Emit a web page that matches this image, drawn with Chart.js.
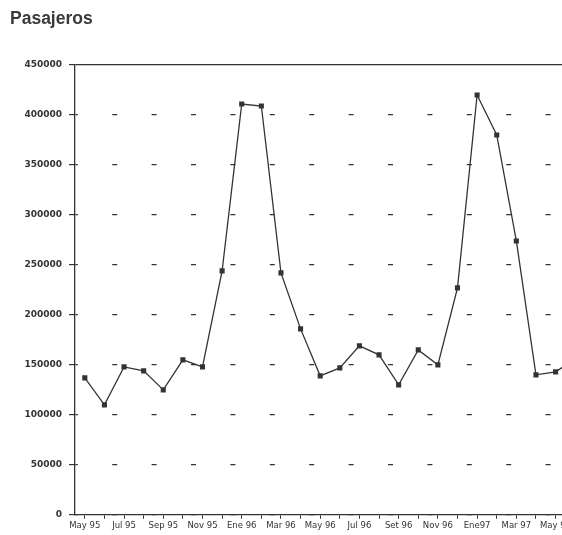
<!DOCTYPE html>
<html>
<head>
    <title>Pasajeros</title>
    <script src="https://cdn.jsdelivr.net/npm/chart.js"></script>
    <style>
        body { margin: 0; overflow: hidden; background: #fff; }
    </style>
</head>
<body>
    <canvas id="myLineChart" width="589" height="535"></canvas>

    <script>
        // months shown on the x axis (only every other one gets a label)
        const months = ['May 95', 'Jun 95', 'Jul 95', 'Ago 95', 'Sep 95', 'Oct 95', 'Nov 95', 'Dic 95',
            'Ene 96', 'Feb 96', 'Mar 96', 'Abr 96', 'May 96', 'Jun 96', 'Jul 96', 'Ago 96',
            'Set 96', 'Oct 96', 'Nov 96', 'Dic 96', 'Ene97', 'Feb 97', 'Mar 97', 'Abr 97',
            'May 97', 'Jun 97'];
        // passengers per month
        const pasajeros = [137000, 110000, 148000, 144000, 125000, 155000, 148000, 244000,
            411000, 409000, 242000, 186000, 139000, 147000, 169000, 160000,
            130000, 165000, 150000, 227000, 420000, 380000, 274000, 140000,
            143000, 156000];
        const yTicks = [0, 50000, 100000, 150000, 200000, 250000, 300000, 350000, 400000, 450000];

        const ink = '#333333';

        const ctx = document.getElementById('myLineChart').getContext('2d');
        const chart = new Chart(ctx, {
            type: 'line',
            data: {
                labels: months,
                datasets: [{
                    label: 'Pasajeros',
                    data: pasajeros,
                    borderColor: ink,
                    borderWidth: 1.3,
                    backgroundColor: ink,
                    pointStyle: 'rect',
                    pointRadius: 3.6,
                    pointBorderWidth: 0,
                    tension: 0,
                    fill: false
                }]
            },
            options: {
                responsive: false,
                animation: false,
                layout: { padding: { left: 10, right: 0, top: 0, bottom: 2 } },
                plugins: {
                    legend: { display: false },
                    tooltip: { enabled: false },
                    title: {
                        display: true,
                        text: 'Pasajeros',
                        align: 'start',
                        color: '#3a3a3a',
                        font: { family: 'Liberation Sans', size: 17.5, weight: 'bold' },
                        padding: { top: 9, bottom: 35 }
                    }
                },
                scales: {
                    x: {
                        offset: true,
                        grid: {
                            drawOnChartArea: false,
                            tickLength: 4,
                            color: ink
                        },
                        border: { color: ink, width: 1.3 },
                        ticks: {
                            autoSkip: false,
                            maxRotation: 0,
                            padding: 2,
                            color: '#333',
                            font: { family: 'DejaVu Sans', size: 8.5 },
                            callback: function (value, index) {
                                return index % 2 === 0 ? months[index] : '';
                            }
                        }
                    },
                    y: {
                        min: 0,
                        max: 450000,
                        afterBuildTicks: function (scale) {
                            scale.ticks = yTicks.map(v => ({ value: v }));
                        },
                        afterFit: function (scale) {
                            scale.width = 65;
                        },
                        grid: {
                            color: ink,
                            lineWidth: 1.2,
                            tickLength: 6,
                            tickColor: ink
                        },
                        border: {
                            color: ink,
                            width: 1.3,
                            // short dashes at every other month boundary, solid top line
                            dash: function (c) {
                                if (c.tick && c.tick.value === 450000) return [];
                                return [5, 34.4];
                            },
                            dashOffset: 2.5
                        },
                        ticks: {
                            padding: 7,
                            color: '#333',
                            font: { family: 'DejaVu Sans', size: 9, weight: 'bold' },
                            callback: function (value) {
                                return String(value);
                            }
                        }
                    }
                }
            }
        });
    </script>
</body>
</html>
